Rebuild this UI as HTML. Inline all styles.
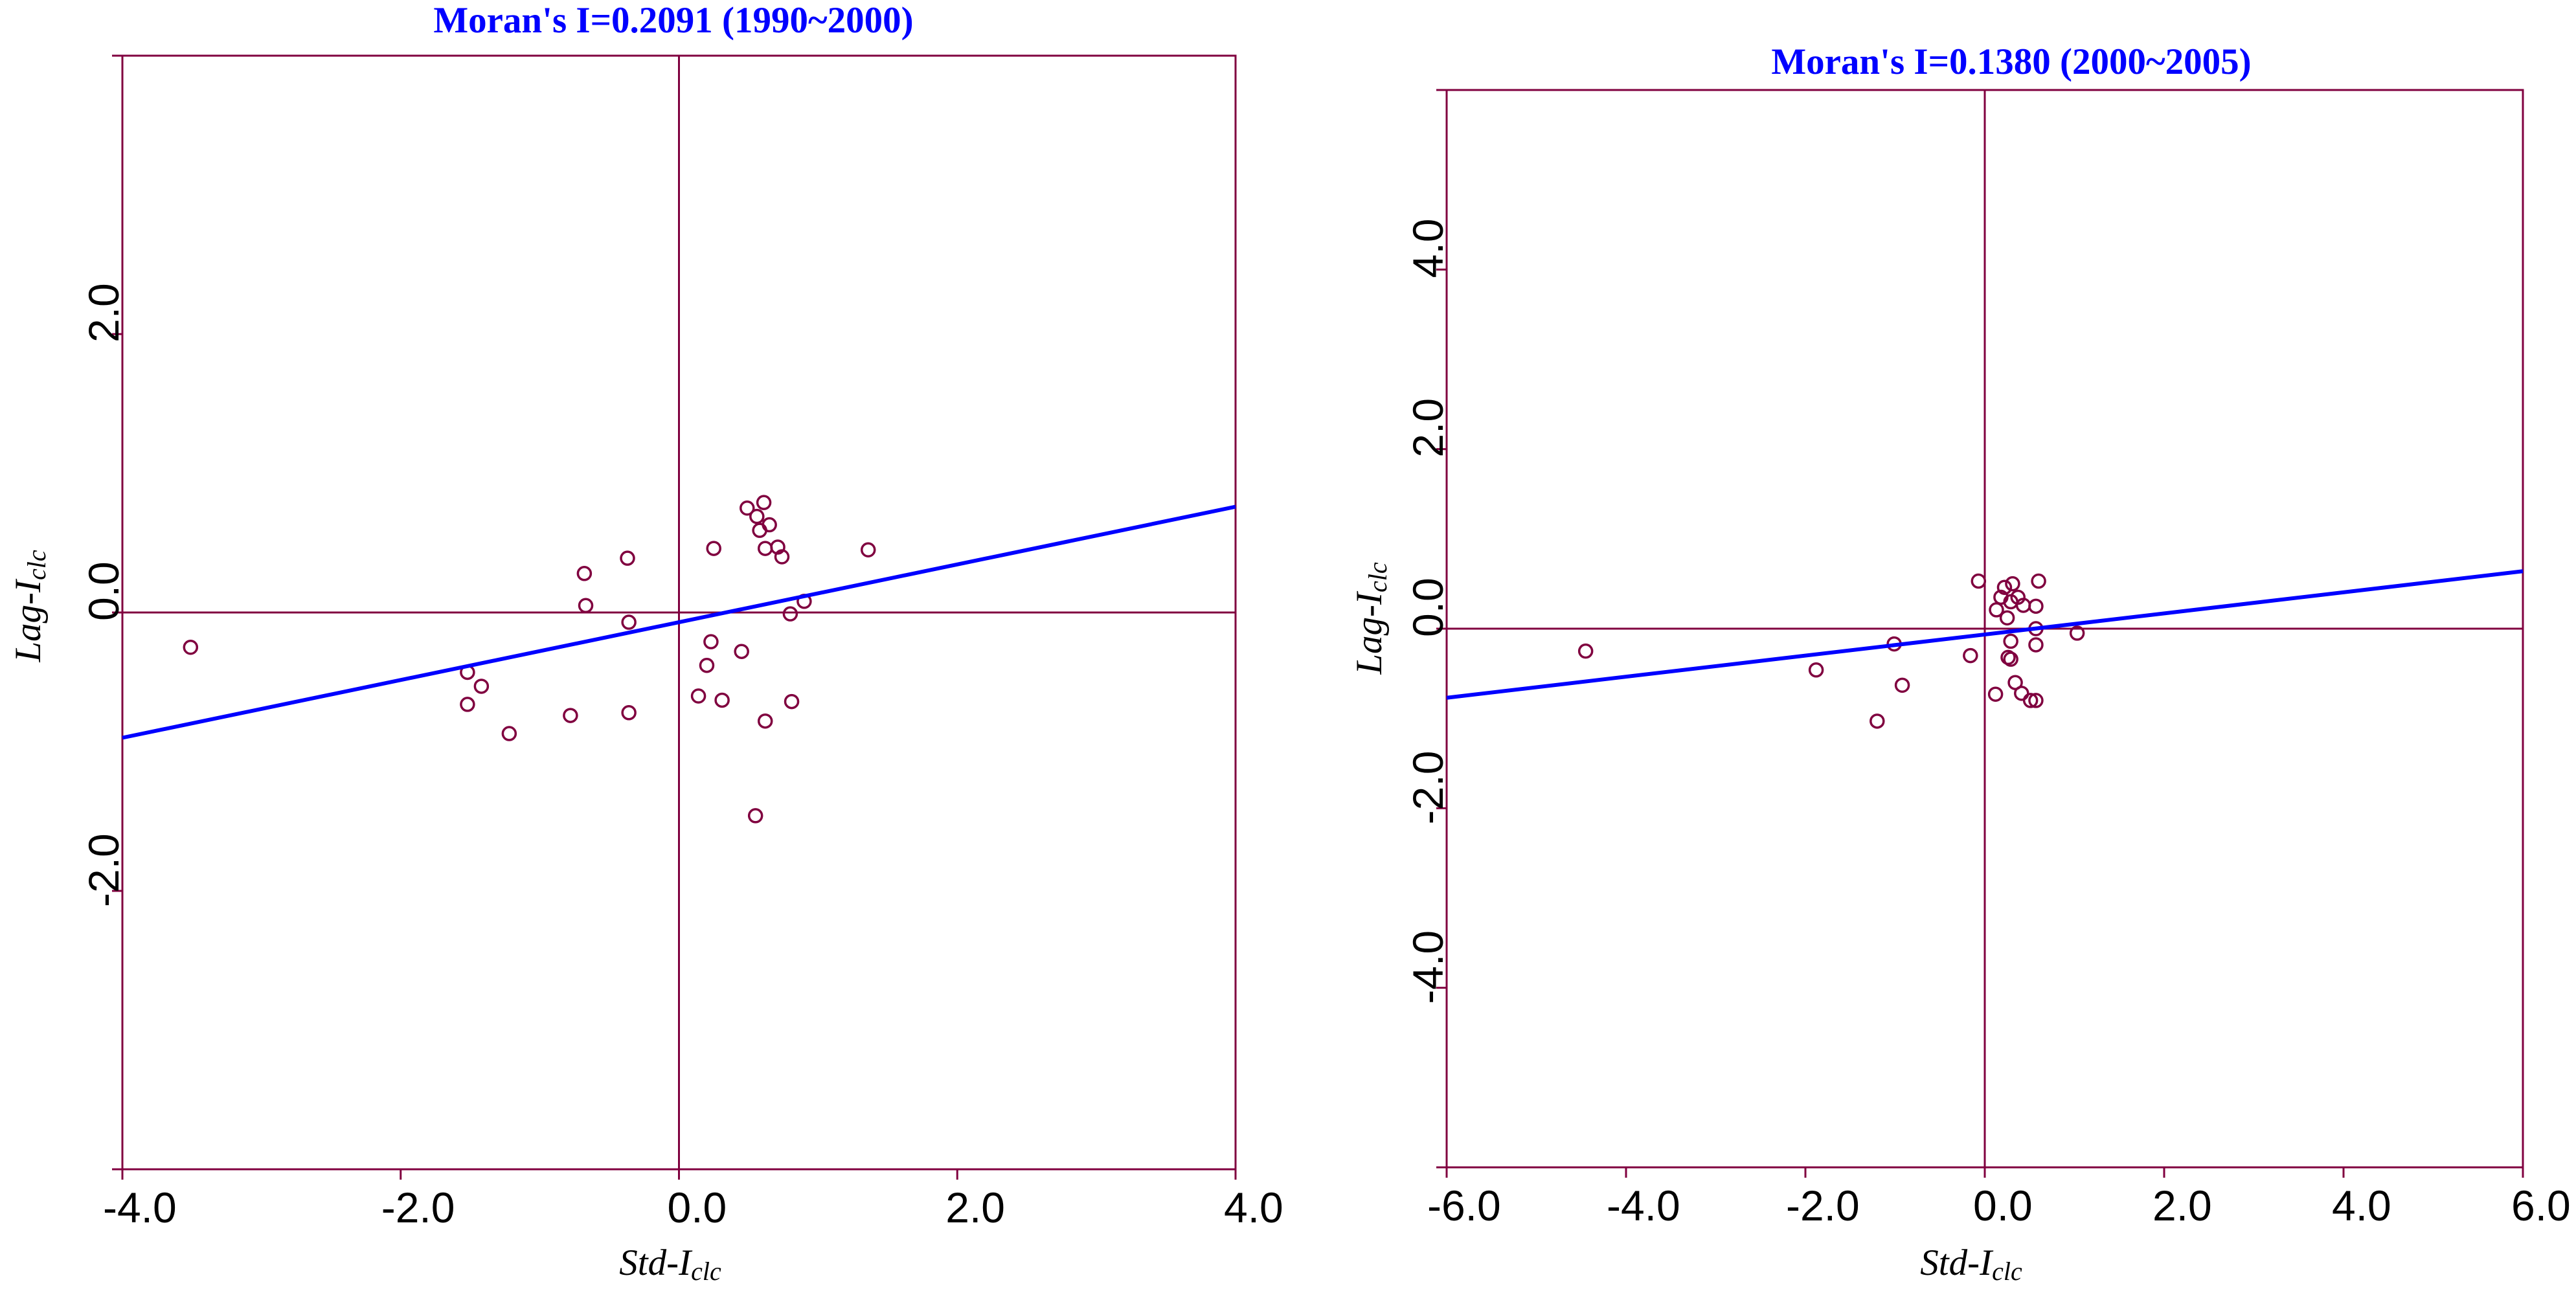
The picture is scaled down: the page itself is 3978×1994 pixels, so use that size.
<!DOCTYPE html>
<html><head><meta charset="utf-8"><style>
html,body{margin:0;padding:0;background:#fff;}
svg{display:block;}
.tick{font-family:"Liberation Sans",sans-serif;font-size:66px;fill:#000;}
.title{font-family:"Liberation Serif",serif;font-weight:bold;font-size:57px;fill:#0000ff;}
.axt{font-family:"Liberation Serif",serif;font-style:italic;font-size:57px;fill:#000;}
</style></head><body>
<svg id="chart" width="3978" height="1994" viewBox="0 0 3978 1994" xmlns="http://www.w3.org/2000/svg">
<text class="title" x="1040" y="50" text-anchor="middle">Moran's I=0.2091 (1990~2000)</text>
<text class="title" x="3106" y="114" text-anchor="middle">Moran's I=0.1380 (2000~2005)</text>
<text class="axt" x="1035" y="1969" text-anchor="middle">Std-I<tspan font-size="40" dy="8">clc</tspan></text>
<text class="axt" x="3044" y="1969" text-anchor="middle">Std-I<tspan font-size="40" dy="8">clc</tspan></text>
<text class="axt" transform="translate(62,936) rotate(-90)" text-anchor="middle">Lag-I<tspan font-size="40" dy="8">clc</tspan></text>
<text class="axt" transform="translate(2133,955) rotate(-90)" text-anchor="middle">Lag-I<tspan font-size="40" dy="8">clc</tspan></text>
<g id="p1"></g>
<g id="p2"></g>
</svg>
<script>
// Left plot data (1990~2000)
const xs1 = [-3.51,-1.52,-1.42,-1.52,-1.22,-0.78,-0.68,-0.67,-0.37,-0.36,-0.36,0.14,0.25,0.23,0.20,0.31,0.45,0.49,0.56,0.61,0.65,0.58,0.62,0.71,0.74,0.62,0.55,0.80,0.81,0.90,1.36];
const ys1 = [-0.25,-0.43,-0.53,-0.66,-0.87,-0.74,0.28,0.05,0.39,-0.07,-0.72,-0.60,0.46,-0.21,-0.38,-0.63,-0.28,0.75,0.69,0.79,0.63,0.59,0.46,0.47,0.40,-0.78,-1.46,-0.01,-0.64,0.08,0.45];
const fit1 = [0.2075, -0.07];
const xticks1 = [-4,-2,0,2,4];
const xlabels1 = ["-4.0","-2.0","0.0","2.0","4.0"];
const yticks1 = [-4,-2,0,2,4];
const ylabels1 = ["","-2.0","0.0","2.0",""];
// Right plot data (2000~2005)
const xs2 = [-4.45,-1.88,-1.20,-1.01,-0.92,-0.16,-0.07,0.13,0.12,0.18,0.22,0.31,0.25,0.29,0.37,0.43,0.29,0.26,0.29,0.34,0.41,0.51,0.57,0.57,0.57,0.57,0.60,1.03];
const ys2 = [-0.25,-0.46,-1.03,-0.17,-0.63,-0.30,0.53,0.21,-0.73,0.35,0.46,0.50,0.12,0.30,0.35,0.26,-0.14,-0.32,-0.34,-0.60,-0.72,-0.80,-0.80,0.25,0.0,-0.18,0.53,-0.05];
const fit2 = [0.1175, -0.065];
const xticks2 = [-6,-4,-2,0,2,4,6];
const xlabels2 = ["-6.0","-4.0","-2.0","0.0","2.0","4.0","6.0"];
const yticks2 = [-6,-4,-2,0,2,4,6];
const ylabels2 = ["","-4.0","-2.0","0.0","2.0","4.0",""];

const NS = "http://www.w3.org/2000/svg";
const FR = "#80003f";
function mk(tag, attrs, parent){
  const e = document.createElementNS(NS, tag);
  for (const k in attrs) e.setAttribute(k, attrs[k]);
  parent.appendChild(e);
  return e;
}
function draw(g, L, R, T, B, xmin, xmax, ymin, ymax, xs, ys, fit, xt, xl, yt, yl, prefix){
  const sx = v => L + (v - xmin) / (xmax - xmin) * (R - L);
  const sy = v => B - (v - ymin) / (ymax - ymin) * (B - T);
  const fr = mk('rect', {x:L, y:T, width:R-L, height:B-T, fill:'none', stroke:FR, 'stroke-width':3}, g);
  
  
  const vz = mk('line', {x1:sx(0), x2:sx(0), y1:T, y2:B, stroke:FR, 'stroke-width':3}, g);
  
  
  const hz = mk('line', {x1:L, x2:R, y1:sy(0), y2:sy(0), stroke:FR, 'stroke-width':3}, g);
  
  
  xt.forEach((v, i) => {
    const t = mk('line', {x1:sx(v), x2:sx(v), y1:B, y2:B+16, stroke:FR, 'stroke-width':3}, g);
    
    
    const tx = mk('text', {x:sx(v) - 18 - (xl[i].startsWith('-') ? 12 : 0), y:B+82, class:'tick'}, g);
    tx.textContent = xl[i];
    
    
  });
  yt.forEach((v, i) => {
    const t = mk('line', {x1:L-16, x2:L, y1:sy(v), y2:sy(v), stroke:FR, 'stroke-width':3}, g);
    
    
    if (yl[i]) {
      const yy = sy(v) + 13 + (yl[i].startsWith('-') ? 12 : 0);
      const tx = mk('text', {transform:'translate(' + (L-6) + ',' + yy + ') rotate(-90)', class:'tick'}, g);
      tx.textContent = yl[i];
      
      
    }
  });
  xs.forEach((x, i) => {
    const c = mk('circle', {cx:sx(x), cy:sy(ys[i]), r:10, fill:'none', stroke:FR, 'stroke-width':3.5}, g);
    
    
  });
  const ln = mk('line', {x1:sx(xmin), y1:sy(fit[0]*xmin + fit[1]), x2:sx(xmax), y2:sy(fit[0]*xmax + fit[1]), stroke:'#0000ff', 'stroke-width':6}, g);
  
  
}
draw(document.getElementById('p1'), 189, 1908, 86, 1806, -4, 4, -4, 4, xs1, ys1, fit1, xticks1, xlabels1, yticks1, ylabels1, 'left');
draw(document.getElementById('p2'), 2234, 3896, 139, 1803, -6, 6, -6, 6, xs2, ys2, fit2, xticks2, xlabels2, yticks2, ylabels2, 'right');
</script>
</body></html>
